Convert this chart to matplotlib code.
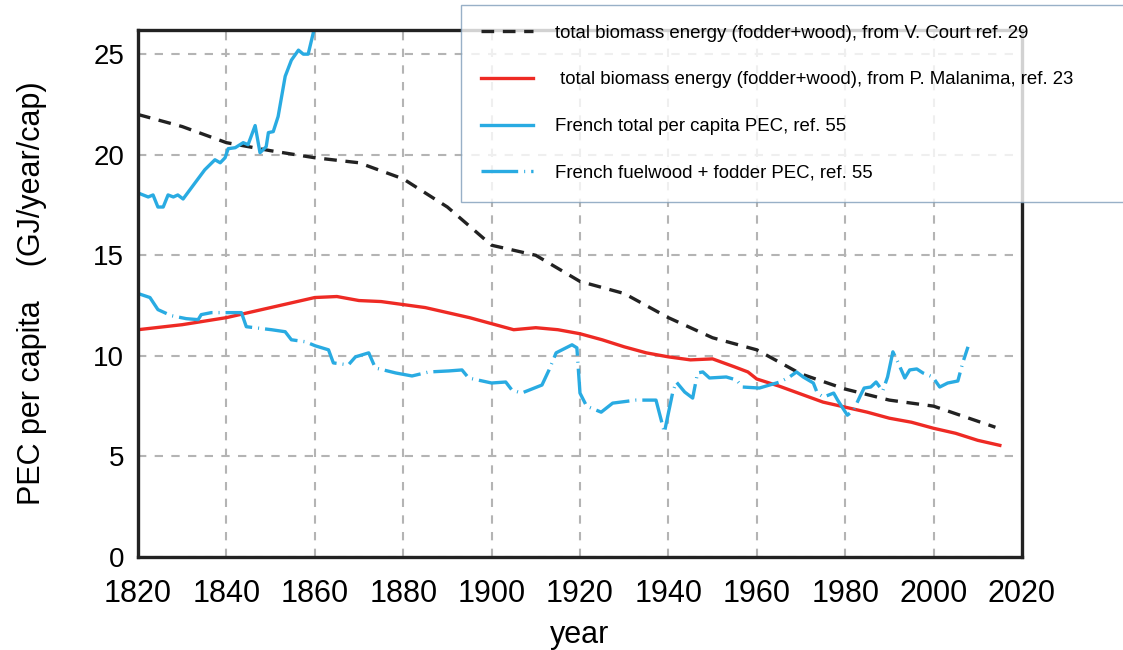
import matplotlib.pyplot as plt

# V. Court, total biomass energy (GJ/year/cap)
court_year = [1820, 1830, 1840, 1850, 1860, 1870, 1880, 1890, 1900, 1910, 1920,
              1930, 1940, 1950, 1960, 1970, 1980, 1990, 2000, 2014]
court_val = [22.0, 21.4, 20.6, 20.2, 19.85, 19.6, 18.8, 17.4, 15.5, 15.0, 13.7,
             13.1, 11.9, 10.9, 10.3, 9.1, 8.35, 7.8, 7.5, 6.45]

# P. Malanima, total biomass energy
malanima_year = [1820, 1830, 1840, 1850, 1860, 1865, 1870, 1875, 1880, 1885, 1890,
                 1895, 1900, 1905, 1910, 1915, 1920, 1925, 1930, 1935, 1940, 1945,
                 1950, 1955, 1958, 1960, 1965, 1970, 1975, 1980, 1985, 1990, 1995,
                 2000, 2005, 2010, 2015]
malanima_val = [11.3, 11.55, 11.9, 12.4, 12.9, 12.95, 12.75, 12.7, 12.55, 12.4, 12.15,
                11.9, 11.6, 11.3, 11.4, 11.3, 11.1, 10.8, 10.45, 10.15, 9.95, 9.8,
                9.85, 9.45, 9.2, 8.85, 8.5, 8.1, 7.7, 7.45, 7.2, 6.9, 6.7,
                6.4, 6.15, 5.8, 5.55]

# French total per capita PEC
pec_year = [1820, 1822.3, 1823.4, 1824.5, 1825.7, 1826.8, 1828, 1829, 1830.2, 1832.9,
            1835.1, 1837.4, 1838.6, 1839.7, 1840.4, 1842, 1843.8, 1844.9, 1846.5,
            1847.6, 1849, 1849.5, 1850.6, 1851.7, 1853.3, 1854.7, 1856.3, 1857.4,
            1858.5, 1859.7, 1861]
pec_val = [18.1, 17.9, 18.0, 17.4, 17.4, 18.0, 17.9, 18.0, 17.8, 18.6,
           19.25, 19.75, 19.6, 19.85, 20.3, 20.35, 20.6, 20.5, 21.45,
           20.1, 20.4, 21.1, 21.15, 21.9, 23.9, 24.7, 25.2, 25.0,
           25.0, 26.1, 27.0]

# French fuelwood + fodder PEC
wood_year = [1820, 1822.7, 1824.5, 1827.5, 1830.9, 1833.6, 1834.3, 1836.6, 1843.4, 1844.5,
             1850.2, 1853.3, 1854.7, 1857.9, 1860.1, 1863.1, 1864.2, 1867.6, 1869.2,
             1872.2, 1873.7, 1878.3, 1882, 1885.8, 1890.3, 1893.3, 1894.8, 1900,
             1903.2, 1904.6, 1906.8, 1911.4, 1913, 1914.6, 1918.2, 1919.3, 1920,
             1921.5, 1924.8, 1927.4, 1932.7, 1937.2, 1939.1, 1941, 1941.8, 1943.7,
             1945.5, 1946.6, 1947.8, 1949.3, 1953.1, 1955.4, 1956.8, 1960.6, 1962.9,
             1965.2, 1967.4, 1969, 1970.5, 1972.8, 1973.7, 1975.1, 1977.4, 1978.3,
             1980.5, 1981.9, 1983.5, 1984.3, 1985.8, 1987, 1988.5, 1989.6, 1990.8,
             1991.9, 1993.5, 1994.6, 1996.2, 1997.6, 1999.8, 2001.4, 2003.2, 2005.5,
             2006.6, 2007.8]
wood_val = [13.1, 12.9, 12.3, 12.0, 11.85, 11.8, 12.05, 12.15, 12.15, 11.45,
            11.3, 11.2, 10.8, 10.7, 10.5, 10.3, 9.65, 9.55, 9.95,
            10.15, 9.4, 9.15, 9.0, 9.2, 9.25, 9.3, 8.9, 8.65,
            8.7, 8.3, 8.15, 8.55, 9.3, 10.15, 10.55, 10.4, 8.15,
            7.5, 7.2, 7.65, 7.8, 7.8, 6.2, 8.2, 8.7, 8.2,
            7.9, 9.15, 9.2, 8.9, 8.95, 8.8, 8.45, 8.4, 8.55,
            8.7, 8.95, 9.2, 8.95, 8.65, 8.15, 7.95, 8.15, 7.8,
            7.05, 7.3, 8.05, 8.4, 8.45, 8.7, 8.25, 8.95, 10.2,
            9.7, 8.9, 9.3, 9.35, 9.15, 8.95, 8.45, 8.65, 8.75,
            9.65, 10.45]

xticks = list(range(1820, 2021, 20))
yticks = [0, 5, 10, 15, 20, 25]

plt.rcParams['font.family'] = ['Liberation Sans', 'DejaVu Sans']

fig = plt.figure(figsize=(11.23, 6.5), dpi=100)
ax = fig.add_axes([0.1229, 0.1431, 0.7871, 0.8107])

ax.plot(court_year, court_val, color='#222222', lw=2.4, dashes=(3.8, 2.6),
        label='total biomass energy (fodder+wood), from V. Court ref. 29')
ax.plot(malanima_year, malanima_val, color='#ee2a24', lw=2.4,
        label=' total biomass energy (fodder+wood), from P. Malanima, ref. 23')
ax.plot(pec_year, pec_val, color='#29abe2', lw=2.4,
        label='French total per capita PEC, ref. 55')
ax.plot(wood_year, wood_val, color='#29abe2', lw=2.4, dashes=(11, 1.8, 0.3, 1.8),
        label='French fuelwood + fodder PEC, ref. 55')

ax.set_xlim(1820, 2020)
ax.set_ylim(0, 26.2)
ax.set_xticks(xticks)
ax.set_yticks(yticks)
ax.grid(True, color='#b4b4b4', ls=(0, (4, 4)), lw=1.5)
ax.tick_params(axis='x', length=0, pad=16, labelsize=22)
ax.tick_params(axis='y', length=0, pad=10, labelsize=20)
for s in ax.spines.values():
    s.set_linewidth(2.4)
    s.set_color('#222222')

ax.set_xlabel('year', fontsize=22, labelpad=8)
ax.set_ylabel('PEC per capita    (GJ/year/cap)', fontsize=22, labelpad=33)

# legend box runs past the right edge of the figure, as in the original
leg = fig.legend(loc='upper left',
                 bbox_to_anchor=(461 / 1123, 1 - 192 / 650, 680 / 1123, 187 / 650),
                 mode='expand', fontsize=13.4, frameon=True, fancybox=False,
                 labelspacing=1.6, handlelength=2.8, handletextpad=1.2,
                 borderpad=1.05, borderaxespad=0)
leg.get_frame().set_edgecolor('#7f9db9')
leg.get_frame().set_linewidth(1.0)

fig.savefig('out.png', dpi=100)
